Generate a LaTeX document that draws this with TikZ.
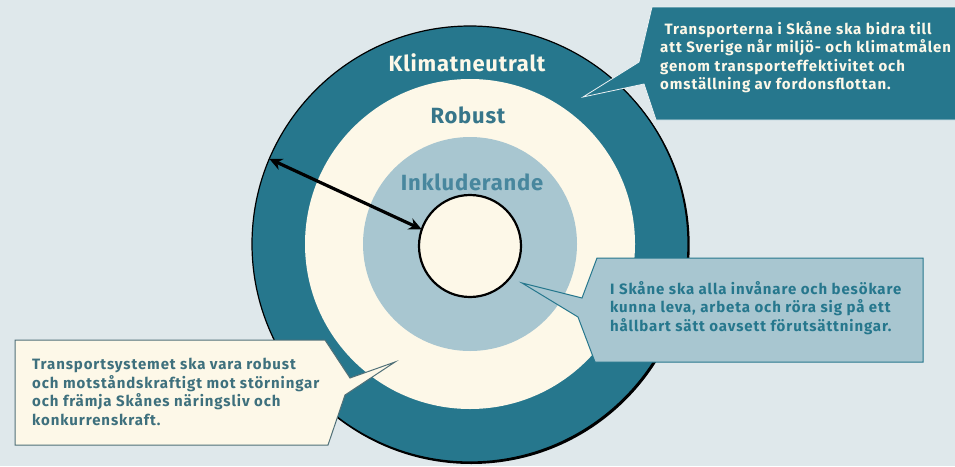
\documentclass[tikz,border=0pt]{standalone}
\usepackage{fontspec}
\setmainfont{Fira Sans}
\newfontfamily\boxfont[LetterSpace=6]{Fira Sans}
\newfontfamily\ringfont[LetterSpace=3.5]{Fira Sans}
\usepackage{tikz}
\usetikzlibrary{arrows.meta,positioning}

\definecolor{bgGray}{RGB}{223,232,235}
\definecolor{ringTeal}{RGB}{38,119,141}
\definecolor{creamFill}{RGB}{253,248,232}
\definecolor{paleBlue}{RGB}{168,198,208}
\definecolor{robustText}{RGB}{55,118,138}
\definecolor{inklText}{RGB}{72,135,158}
\definecolor{boxEdge}{RGB}{80,112,120}
\definecolor{boxText}{RGB}{62,112,125}

\tikzset{
	ring/.style={circle,inner sep=0pt,outer sep=0pt},
	ringlabel/.style={font=\ringfont\fontsize{22}{26}\selectfont\bfseries},
	boxtext/.style={font=\boxfont\fontsize{15}{18.5}\selectfont\bfseries,align=left,anchor=west,inner sep=0pt}
}

\begin{document}
\begin{tikzpicture}[x=1pt,y=-1pt]
			
			% Background
			\fill[bgGray] (0,0) rectangle (955,466);
			\useasboundingbox (0,0) rectangle (955,466);
			
			% Rings
			\coordinate (mid) at (470,244);
			\node[ring,fill=black,minimum size=437pt,xshift=1.2pt,yshift=-1.5pt] (skugga) at (mid) {};
			\node[ring,fill=ringTeal,draw=black,line width=1.2pt,minimum size=436pt] (klimat) at (mid) {};
			\node[ring,fill=creamFill,minimum size=330pt] (robust) at (mid) {};
			\node[ring,fill=paleBlue,minimum size=214pt] (inkl) at (mid) {};
			\node[ring,fill=creamFill,draw=black,line width=2.2pt,minimum size=102pt] (centrum) at (470,246) {};
			
			\node[ringlabel,text=creamFill] (klimatTxt) at (467,63) {Klimatneutralt};
			\node[ringlabel,text=robustText] (robustTxt) at (468,115) {Robust};
			\node[ringlabel,text=inklText] (inklTxt) at (472,182) {Inkluderande};
			
			\draw[{Stealth[length=13pt,width=12pt]}-{Stealth[length=13pt,width=12pt]},line width=3.2pt] (klimat.157) -- (centrum.161);
			
			% Callout Klimatneutralt
			\filldraw[fill=ringTeal,draw=bgGray!60!white,line width=0.8pt] (652,7) -- (960,7) -- (960,120) -- (656,120) -- (644,84) -- (583,97) -- (639,62) -- cycle;
			\node[boxtext,text=creamFill] (klimatBox) at (660,57) {\ Transporterna i Skåne ska bidra till\\att Sverige når miljö- och klimatmålen\\genom transporteffektivitet och\\omställning av fordonsflottan.};
			
			% Callout Inkluderande
			\filldraw[fill=paleBlue,draw=ringTeal,line width=1pt] (597,258) -- (923,258) -- (923,362) -- (595,362) -- (578,317) -- (522,283) -- (582,298) -- cycle;
			\node[boxtext,text=ringTeal] (inklBox) at (610,308) {I Skåne ska alla invånare och besökare\\kunna leva, arbeta och röra sig på ett\\hållbart sätt oavsett förutsättningar.};
			
			% Callout Robust
			\filldraw[fill=creamFill,draw=boxEdge,line width=1pt] (15,340) -- (325,340) -- (350,378) -- (395,362) -- (345,395) -- (328,445) -- (15,445) -- cycle;
			\node[boxtext,text=boxText] (robustBox) at (32,392) {Transportsystemet ska vara robust\\och motståndskraftigt mot störningar\\och främja Skånes näringsliv och\\konkurrenskraft.};
			
\end{tikzpicture}
\end{document}
